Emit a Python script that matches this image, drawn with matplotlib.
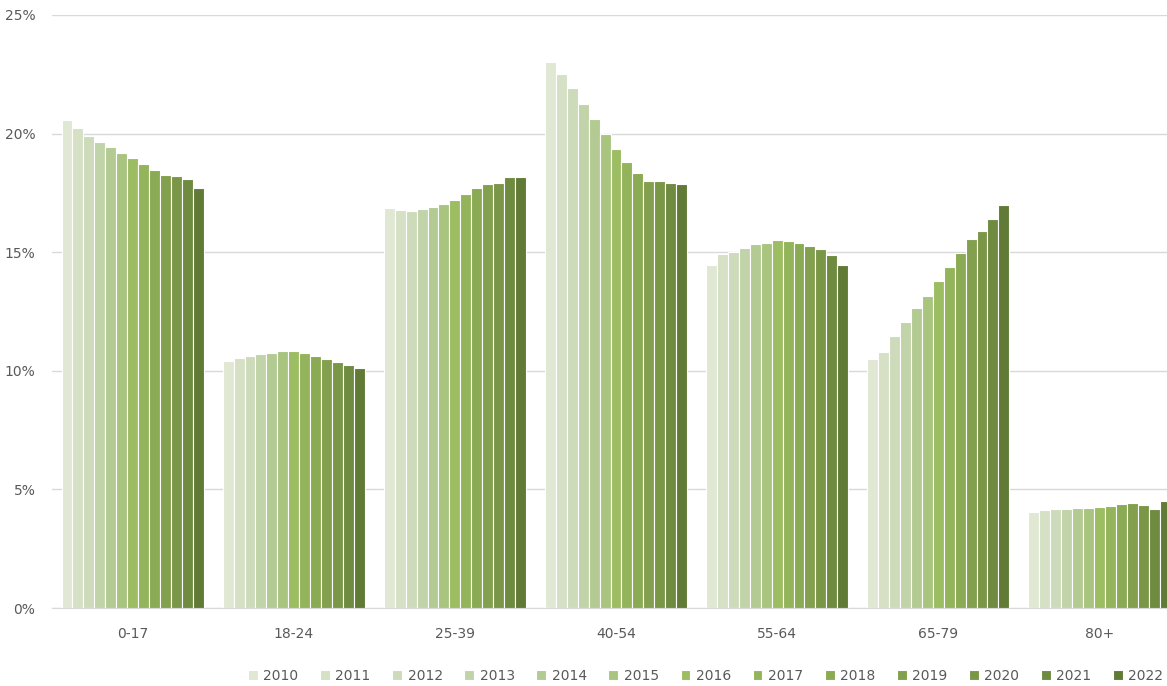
import numpy as np
import matplotlib
matplotlib.use("Agg")
import matplotlib.pyplot as plt
from matplotlib.ticker import FuncFormatter

# age groups and years
groups = ["0-17", "18-24", "25-39", "40-54", "55-64", "65-79", "80+"]
years = [str(y) for y in range(2010, 2023)]

# share of population (%) per age group, one list per group, 2010..2022
share_0_17 = [20.57, 20.22, 19.91, 19.65, 19.42, 19.20, 18.96, 18.72, 18.47, 18.24, 18.21, 18.10, 17.72]
share_18_24 = [10.40, 10.54, 10.61, 10.71, 10.75, 10.85, 10.82, 10.75, 10.64, 10.51, 10.36, 10.24, 10.13]
share_25_39 = [16.88, 16.79, 16.74, 16.83, 16.89, 17.02, 17.20, 17.47, 17.71, 17.86, 17.92, 18.16, 18.16]
share_40_54 = [23.00, 22.51, 21.92, 21.25, 20.60, 20.00, 19.34, 18.79, 18.35, 18.00, 18.00, 17.90, 17.86]
share_55_64 = [14.46, 14.91, 15.02, 15.16, 15.33, 15.40, 15.51, 15.49, 15.39, 15.27, 15.12, 14.90, 14.46]
share_65_79 = [10.51, 10.81, 11.48, 12.04, 12.65, 13.17, 13.80, 14.36, 14.95, 15.54, 15.91, 16.40, 16.98]
share_80_plus = [4.06, 4.12, 4.16, 4.17, 4.20, 4.23, 4.24, 4.29, 4.37, 4.41, 4.36, 4.19, 4.52]

colors = ["#e0e8d4", "#d5e0c4", "#cddbbb", "#c1d3a8", "#b3cb93", "#a8c47f", "#9dbd63",
          "#93b45a", "#8aaa53", "#82a04d", "#7a9748", "#6e8b3f", "#617a36"]

data = np.array([share_0_17, share_18_24, share_25_39, share_40_54,
                 share_55_64, share_65_79, share_80_plus])

fig = plt.figure(figsize=(11.67, 6.86), dpi=100)
# plot area runs past the right edge of the figure
ax = fig.add_axes([52 / 1167, 78 / 686, 1128 / 1167, 593 / 686])

x = np.arange(len(groups))
n = len(years)
group_w = 142 / 161
w = group_w / n
for i, yr in enumerate(years):
    ax.bar(x - group_w / 2 + w * (i + 0.5), data[:, i], width=w, color=colors[i],
           edgecolor="white", linewidth=0.8, label=yr, zorder=3)

ax.set_xlim(-0.5, len(groups) - 0.5)
ax.set_ylim(0, 25)
ax.set_yticks([0, 5, 10, 15, 20, 25])
ax.yaxis.set_major_formatter(FuncFormatter(lambda v, p: f"{v:.0f}%"))
ax.set_xticks(x)
ax.set_xticklabels(groups)
ax.grid(axis="y", color="#d9d9d9", linewidth=1, zorder=0)
for s in ["top", "right", "left"]:
    ax.spines[s].set_visible(False)
ax.spines["bottom"].set_color("#d9d9d9")
ax.tick_params(axis="both", length=0, labelsize=10, colors="#595959")
ax.tick_params(axis="x", pad=14)
ax.tick_params(axis="y", pad=12)

fig.legend(loc="center left", bbox_to_anchor=(248 / 1167, 10 / 686), ncol=n,
           frameon=False, fontsize=10, labelcolor="#595959",
           handlelength=0.7, handleheight=0.7, handletextpad=0.4,
           columnspacing=1.56, borderaxespad=0, borderpad=0)

fig.savefig("out.png", dpi=100)
